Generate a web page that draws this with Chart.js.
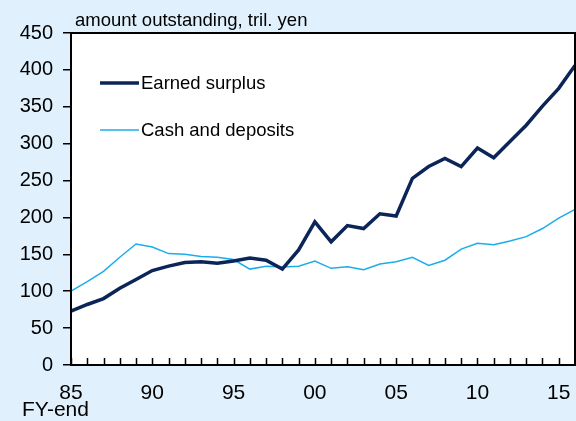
<!DOCTYPE html>
<html>
<head>
<meta charset="utf-8">
<script src="https://cdn.jsdelivr.net/npm/chart.js@4/dist/chart.umd.min.js"></script>
<style>
  html, body { margin: 0; padding: 0; background: #e0f1fd; }
  #wrap { width: 576px; height: 421px; position: relative; }
</style>
</head>
<body>
<div id="wrap"><canvas id="myChart" width="576" height="421"></canvas></div>
<script>
// fiscal years 1985 - 2016
const years = [1985, 1986, 1987, 1988, 1989, 1990, 1991, 1992, 1993, 1994, 1995, 1996, 1997, 1998, 1999, 2000,
  2001, 2002, 2003, 2004, 2005, 2006, 2007, 2008, 2009, 2010, 2011, 2012, 2013, 2014, 2015, 2016];
const earnedSurplus = [73, 82, 90, 104, 116, 128, 134, 139, 140, 138, 141, 145, 142, 130, 156, 194,
  167, 189, 185, 205, 202, 253, 269, 280, 269, 294, 281, 303, 325, 351, 375, 406];
const cashDeposits = [100, 113, 127, 146, 164, 160, 151, 150, 147, 146, 143, 130, 134, 133, 134, 141,
  131, 133, 129, 137, 140, 146, 135, 142, 157, 165, 163, 168, 174, 185, 199, 211];
const yTicks = [0, 50, 100, 150, 200, 250, 300, 350, 400, 450];

const font = "'Liberation Sans', Arial, sans-serif";

// white plot area, box and inner x ticks, legend, unit label
const decor = {
  id: "decor",
  beforeDatasetsDraw(chart) {
    const { ctx, chartArea: a } = chart;
    ctx.save();
    ctx.fillStyle = "#fff";
    ctx.fillRect(a.left, a.top, a.right - a.left, a.bottom - a.top);
    ctx.restore();
  },
  afterDatasetsDraw(chart) {
    const { ctx, chartArea: a } = chart;
    const x = chart.scales.x;
    ctx.save();
    ctx.strokeStyle = "#000";
    ctx.lineWidth = 2;
    ctx.strokeRect(a.left, a.top, a.right - a.left, a.bottom - a.top);
    ctx.lineWidth = 1.5;
    ctx.beginPath();
    years.forEach((y, i) => {
      const px = Math.round(x.getPixelForValue(i)) + 0.5;
      ctx.moveTo(px, a.bottom);
      ctx.lineTo(px, a.bottom - 7);
    });
    ctx.stroke();

    // legend
    const items = [
      { label: "Earned surplus", color: "#0b2559", width: 3.5, y: 83 },
      { label: "Cash and deposits", color: "#1badeb", width: 1.5, y: 130 },
    ];
    ctx.font = "18.5px " + font;
    ctx.textBaseline = "middle";
    items.forEach((it) => {
      ctx.strokeStyle = it.color;
      ctx.lineWidth = it.width;
      ctx.beginPath();
      ctx.moveTo(100, it.y);
      ctx.lineTo(139, it.y);
      ctx.stroke();
      ctx.fillStyle = "#000";
      ctx.fillText(it.label, 141, it.y + 1);
    });

    ctx.font = "18.5px " + font;
    ctx.fillText("amount outstanding, tril. yen", 75, 21);
    ctx.font = "21px " + font;
    ctx.fillText("FY-end", 22, 410);
    ctx.restore();
  },
};

new Chart(document.getElementById("myChart"), {
  type: "line",
  data: {
    labels: years,
    datasets: [
      {
        label: "Earned surplus",
        data: earnedSurplus,
        borderColor: "#0b2559",
        borderWidth: 3.5,
        pointRadius: 0,
        tension: 0,
      },
      {
        label: "Cash and deposits",
        data: cashDeposits,
        borderColor: "#1badeb",
        borderWidth: 1.5,
        pointRadius: 0,
        tension: 0,
      },
    ],
  },
  options: {
    responsive: false,
    animation: false,
    layout: { padding: { top: 33, right: 1, left: 0, bottom: 0 } },
    plugins: {
      legend: { display: false },
      tooltip: { enabled: false },
    },
    scales: {
      x: {
        offset: false,
        grid: { display: false, drawTicks: false },
        border: { display: false },
        afterFit: (s) => { s.height = 56; s.paddingLeft = 0; s.paddingRight = 0; },
        ticks: {
          autoSkip: false,
          maxRotation: 0,
          padding: 16,
          color: "#000",
          font: { family: font, size: 21 },
          callback: (v, i) => (years[i] % 5 === 0 ? String(years[i] % 100).padStart(2, "0") : ""),
        },
      },
      y: {
        min: 0,
        max: 450,
        afterBuildTicks: (s) => { s.ticks = yTicks.map((v) => ({ value: v })); },
        afterFit: (s) => { s.width = 71; s.paddingTop = 0; s.paddingBottom = 0; },
        grid: { drawOnChartArea: false, tickLength: 8, color: "#000", lineWidth: 1.5 },
        border: { display: false },
        ticks: {
          padding: 10,
          color: "#000",
          font: { family: font, size: 20 },
        },
      },
    },
  },
  plugins: [decor],
});
</script>
</body>
</html>
